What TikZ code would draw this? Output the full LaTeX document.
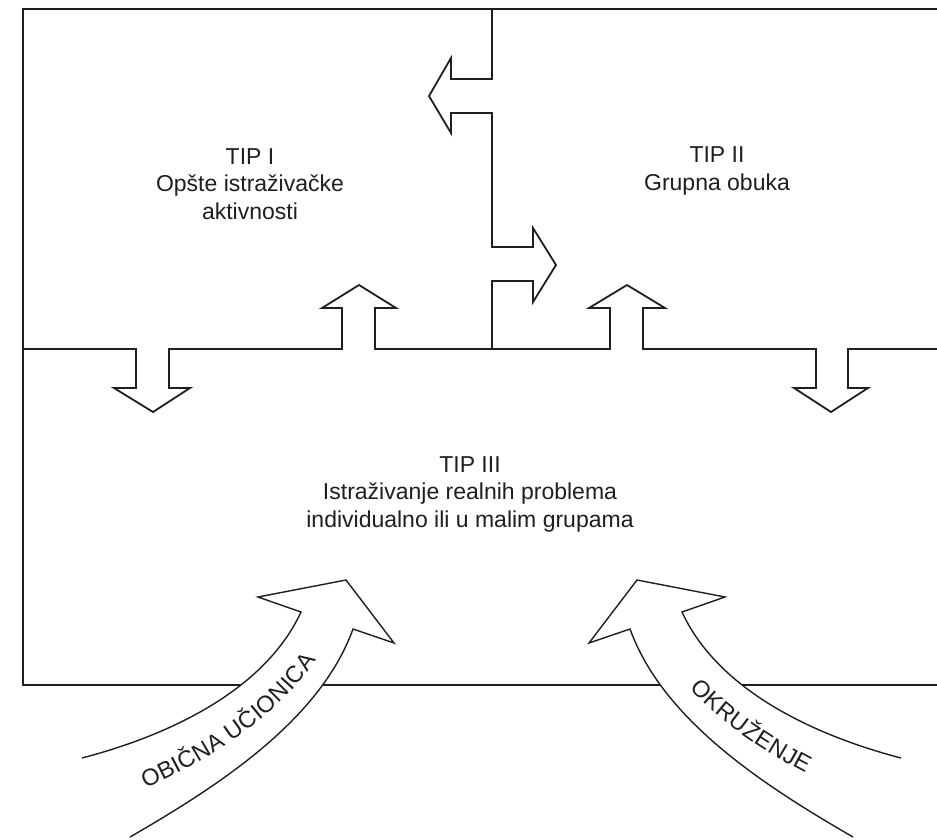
\documentclass[tikz,border=0pt]{standalone}
\usepackage{fontspec}
\setmainfont{Liberation Sans}
\usetikzlibrary{decorations.text}
\definecolor{ink}{gray}{0.12}
\newcommand\curvefont{\fontsize{23.5}{27}\selectfont}
\begin{document}
\begin{tikzpicture}[x=1pt,y=-1pt, line join=miter,
  frame/.style={draw=ink, line width=1.8pt},
  bigarrow/.style={draw=ink, line width=1.4pt, fill=white},
  lbl/.style={font=\fontsize{23}{27.5}\selectfont, text=ink, align=center, inner sep=0pt},
  curvetext/.style={decorate, decoration={text along path, text align=center, raise=-8.5pt, text color=ink, text={|\curvefont|#1}}}]
\useasboundingbox[fill=white] (0,0) rectangle (937,839);
% outer frame
\draw[frame] (937,9) -- (23,9) -- (23,685) -- (937,685);
% middle line with arrows
\draw[frame] (23,349) -- (136,349) -- (136,388) -- (114,388) -- (153,412) -- (190,388) -- (169,388) -- (169,349)
  -- (342,349) -- (342,308) -- (322,308) -- (359,285) -- (396,308) -- (375,308) -- (375,349)
  -- (610,349) -- (610,308) -- (589,308) -- (627,285) -- (665,308) -- (643,308) -- (643,349)
  -- (816,349) -- (816,388) -- (794,388) -- (831,412) -- (868,388) -- (848,388) -- (848,349) -- (937,349);
% centre divider with arrows
\draw[frame] (492,9) -- (492,79) -- (451,79) -- (451,58) -- (429,96) -- (451,133) -- (451,113) -- (492,113)
  -- (492,247) -- (533,247) -- (533,228) -- (556,265) -- (533,302) -- (533,281) -- (492,281) -- (492,349);
% curved arrows
\draw[bigarrow] (82,758) .. controls (170,735) and (265,690) .. (301,612) -- (258,597) -- (346,580) -- (394,643) -- (353,629) .. controls (320,720) and (220,785) .. (130,837);
\draw[bigarrow] (901,758) .. controls (813,735) and (718,690) .. (682,612) -- (725,597) -- (637,580) -- (589,643) -- (630,629) .. controls (663,720) and (763,785) .. (853,837);
\path[curvetext={OBIČNA UČIONICA}] (106,797) .. controls (195,760) and (295,705) .. (327,620);
\path[curvetext={OKRUŽENJE}] (656,620) .. controls (688,705) and (788,760) .. (877,797);
% labels
\node[lbl] (t1) at (250,184) {TIP I\\Opšte istraživačke\\aktivnosti};
\node[lbl] (t2) at (717,171) {TIP II\\Grupna obuka};
\node[lbl] (t3) at (470,494) {TIP III\\Istraživanje realnih problema\\individualno ili u malim grupama};
\end{tikzpicture}
\end{document}
